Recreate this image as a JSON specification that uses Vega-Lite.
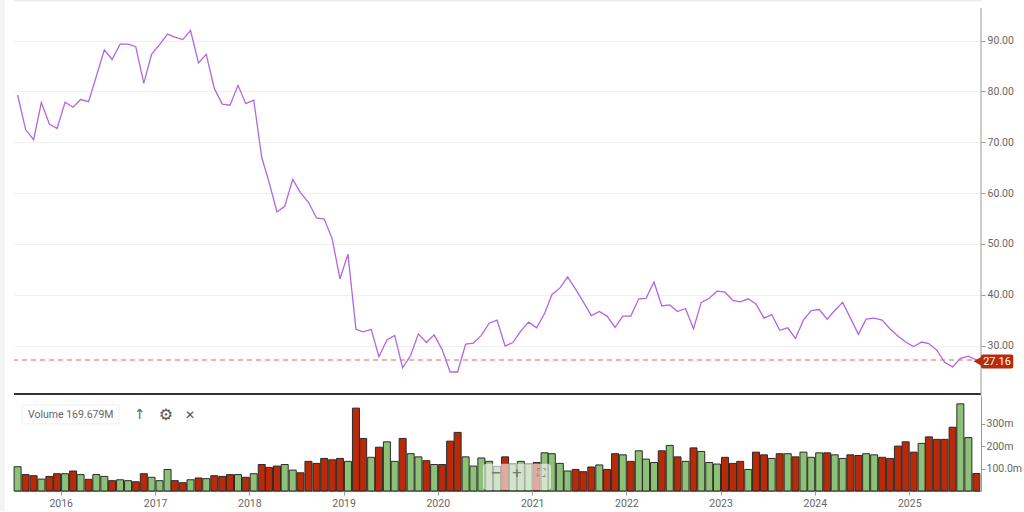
{"$schema":"https://vega.github.io/schema/vega-lite/v6.json","width":967,"height":491,"autosize":"none","padding":{"left":14,"top":0,"right":43,"bottom":21},"background":"#ffffff","config":{"scale":{"continuousPadding":0},"view":{"stroke":null},"text":{"font":"Roboto"},"axis":{"labelFont":"Roboto","labelFontSize":10.5,"labelColor":"#666666","tickColor":"#999999","domainColor":"#999999","title":null}},
"datasets":{"m":[
{"d":"2015-07-18","p":79.3,"v":108,"dir":"up"},{"d":"2015-08-18","p":72.5,"v":73,"dir":"down"},{"d":"2015-09-18","p":70.5,"v":68,"dir":"down"},{"d":"2015-10-18","p":77.8,"v":53,"dir":"up"},{"d":"2015-11-18","p":73.6,"v":65,"dir":"down"},{"d":"2015-12-18","p":72.7,"v":77,"dir":"down"},
{"d":"2016-01-18","p":77.9,"v":77,"dir":"up"},{"d":"2016-02-18","p":76.9,"v":89,"dir":"down"},{"d":"2016-03-18","p":78.4,"v":73,"dir":"up"},{"d":"2016-04-18","p":78.0,"v":52,"dir":"down"},{"d":"2016-05-18","p":83.0,"v":73,"dir":"up"},{"d":"2016-06-18","p":88.2,"v":65,"dir":"up"},{"d":"2016-07-18","p":86.3,"v":46,"dir":"down"},{"d":"2016-08-18","p":89.3,"v":50,"dir":"up"},{"d":"2016-09-18","p":89.3,"v":46,"dir":"up"},{"d":"2016-10-18","p":88.8,"v":41,"dir":"down"},{"d":"2016-11-18","p":81.6,"v":77,"dir":"down"},{"d":"2016-12-18","p":87.3,"v":61,"dir":"up"},
{"d":"2017-01-18","p":89.2,"v":46,"dir":"up"},{"d":"2017-02-18","p":91.3,"v":96,"dir":"up"},{"d":"2017-03-18","p":90.7,"v":46,"dir":"down"},{"d":"2017-04-18","p":90.2,"v":37,"dir":"down"},{"d":"2017-05-18","p":92.0,"v":50,"dir":"up"},{"d":"2017-06-18","p":85.6,"v":58,"dir":"down"},{"d":"2017-07-18","p":87.3,"v":55,"dir":"up"},{"d":"2017-08-18","p":80.6,"v":68,"dir":"down"},{"d":"2017-09-18","p":77.5,"v":65,"dir":"down"},{"d":"2017-10-18","p":77.3,"v":73,"dir":"down"},{"d":"2017-11-18","p":81.2,"v":73,"dir":"up"},{"d":"2017-12-18","p":77.6,"v":61,"dir":"down"},
{"d":"2018-01-18","p":78.3,"v":77,"dir":"up"},{"d":"2018-02-18","p":67.0,"v":118,"dir":"down"},{"d":"2018-03-18","p":62.2,"v":105,"dir":"down"},{"d":"2018-04-18","p":56.3,"v":111,"dir":"down"},{"d":"2018-05-18","p":57.4,"v":118,"dir":"up"},{"d":"2018-06-18","p":62.7,"v":93,"dir":"up"},{"d":"2018-07-18","p":60.1,"v":81,"dir":"down"},{"d":"2018-08-18","p":58.2,"v":132,"dir":"down"},{"d":"2018-09-18","p":55.1,"v":123,"dir":"down"},{"d":"2018-10-18","p":54.9,"v":145,"dir":"down"},{"d":"2018-11-18","p":51.0,"v":139,"dir":"down"},{"d":"2018-12-18","p":43.1,"v":145,"dir":"down"},
{"d":"2019-01-18","p":48.0,"v":132,"dir":"up"},{"d":"2019-02-18","p":33.2,"v":369,"dir":"down"},{"d":"2019-03-18","p":32.7,"v":234,"dir":"down"},{"d":"2019-04-18","p":33.2,"v":150,"dir":"up"},{"d":"2019-05-18","p":27.8,"v":195,"dir":"down"},{"d":"2019-06-18","p":31.1,"v":219,"dir":"up"},{"d":"2019-07-18","p":32.0,"v":132,"dir":"up"},{"d":"2019-08-18","p":25.6,"v":234,"dir":"down"},{"d":"2019-09-18","p":28.1,"v":166,"dir":"up"},{"d":"2019-10-18","p":32.3,"v":152,"dir":"up"},{"d":"2019-11-18","p":30.6,"v":135,"dir":"down"},{"d":"2019-12-18","p":32.1,"v":118,"dir":"up"},
{"d":"2020-01-18","p":29.2,"v":118,"dir":"down"},{"d":"2020-02-18","p":24.8,"v":222,"dir":"down"},{"d":"2020-03-18","p":24.8,"v":261,"dir":"down"},{"d":"2020-04-18","p":30.3,"v":152,"dir":"up"},{"d":"2020-05-18","p":30.5,"v":111,"dir":"up"},{"d":"2020-06-18","p":32.0,"v":147,"dir":"up"},{"d":"2020-07-18","p":34.4,"v":132,"dir":"up"},{"d":"2020-08-18","p":35.0,"v":110,"dir":"up"},{"d":"2020-09-18","p":29.9,"v":152,"dir":"down"},{"d":"2020-10-18","p":30.6,"v":120,"dir":"up"},{"d":"2020-11-18","p":32.9,"v":132,"dir":"up"},{"d":"2020-12-18","p":34.6,"v":120,"dir":"up"},
{"d":"2021-01-18","p":33.5,"v":127,"dir":"down"},{"d":"2021-02-18","p":36.3,"v":170,"dir":"up"},{"d":"2021-03-18","p":40.0,"v":166,"dir":"up"},{"d":"2021-04-18","p":41.3,"v":123,"dir":"up"},{"d":"2021-05-18","p":43.5,"v":89,"dir":"up"},{"d":"2021-06-18","p":41.1,"v":96,"dir":"down"},{"d":"2021-07-18","p":38.6,"v":86,"dir":"down"},{"d":"2021-08-18","p":35.9,"v":107,"dir":"down"},{"d":"2021-09-18","p":36.7,"v":116,"dir":"up"},{"d":"2021-10-18","p":35.8,"v":96,"dir":"down"},{"d":"2021-11-18","p":33.6,"v":166,"dir":"down"},{"d":"2021-12-18","p":35.8,"v":161,"dir":"up"},
{"d":"2022-01-18","p":35.8,"v":132,"dir":"down"},{"d":"2022-02-18","p":39.2,"v":179,"dir":"up"},{"d":"2022-03-18","p":39.3,"v":142,"dir":"up"},{"d":"2022-04-18","p":42.5,"v":127,"dir":"up"},{"d":"2022-05-18","p":37.8,"v":179,"dir":"down"},{"d":"2022-06-18","p":38.0,"v":203,"dir":"up"},{"d":"2022-07-18","p":36.7,"v":152,"dir":"down"},{"d":"2022-08-18","p":37.3,"v":132,"dir":"up"},{"d":"2022-09-18","p":33.3,"v":192,"dir":"down"},{"d":"2022-10-18","p":38.5,"v":176,"dir":"up"},{"d":"2022-11-18","p":39.3,"v":127,"dir":"up"},{"d":"2022-12-18","p":40.7,"v":120,"dir":"up"},
{"d":"2023-01-18","p":40.5,"v":150,"dir":"down"},{"d":"2023-02-18","p":38.9,"v":123,"dir":"down"},{"d":"2023-03-18","p":38.6,"v":132,"dir":"down"},{"d":"2023-04-18","p":39.2,"v":96,"dir":"up"},{"d":"2023-05-18","p":38.2,"v":173,"dir":"down"},{"d":"2023-06-18","p":35.4,"v":161,"dir":"down"},{"d":"2023-07-18","p":36.1,"v":145,"dir":"up"},{"d":"2023-08-18","p":33.0,"v":166,"dir":"down"},{"d":"2023-09-18","p":33.5,"v":166,"dir":"up"},{"d":"2023-10-18","p":31.4,"v":152,"dir":"down"},{"d":"2023-11-18","p":35.0,"v":173,"dir":"up"},{"d":"2023-12-18","p":36.9,"v":150,"dir":"up"},
{"d":"2024-01-18","p":37.1,"v":170,"dir":"up"},{"d":"2024-02-18","p":35.2,"v":170,"dir":"down"},{"d":"2024-03-18","p":36.9,"v":161,"dir":"up"},{"d":"2024-04-18","p":38.5,"v":145,"dir":"up"},{"d":"2024-05-18","p":35.4,"v":161,"dir":"down"},{"d":"2024-06-18","p":32.2,"v":158,"dir":"down"},{"d":"2024-07-18","p":35.2,"v":166,"dir":"up"},{"d":"2024-08-18","p":35.4,"v":161,"dir":"up"},{"d":"2024-09-18","p":35.0,"v":150,"dir":"down"},{"d":"2024-10-18","p":33.3,"v":145,"dir":"down"},{"d":"2024-11-18","p":31.9,"v":200,"dir":"down"},{"d":"2024-12-18","p":30.7,"v":219,"dir":"down"},
{"d":"2025-01-18","p":29.8,"v":173,"dir":"down"},{"d":"2025-02-18","p":30.7,"v":212,"dir":"up"},{"d":"2025-03-18","p":30.4,"v":241,"dir":"down"},{"d":"2025-04-18","p":29.1,"v":230,"dir":"down"},{"d":"2025-05-18","p":26.7,"v":230,"dir":"down"},{"d":"2025-06-18","p":25.8,"v":284,"dir":"down"},{"d":"2025-07-18","p":27.5,"v":388,"dir":"up"},{"d":"2025-08-18","p":27.9,"v":238,"dir":"up"},{"d":"2025-09-18","p":27.16,"v":78,"dir":"down"}
],"one":[{"k":1}]},
"data":{"name":"m"},
"resolve":{"scale":{"y":"independent"},"axis":{"y":"independent"}},
"layer":[
{"layer":[
{"data":{"name":"one"},"mark":{"type":"rect","fill":"#f5f5f5"},"encoding":{"x":{"datum":{"year":2015,"month":5,"date":11},"type":"temporal","scale":{"domain":["2015-07-04","2025-10-06"]}},"x2":{"datum":{"year":2015,"month":5,"date":30}},"y":{"datum":98,"type":"quantitative","scale":{"domain":[20.47,97.8],"range":[394,1],"zero":false,"nice":false},"axis":{"orient":"right","values":[30,40,50,60,70,80,90],"format":".2f","grid":true,"gridColor":"#f0f0f0","domain":false,"tickSize":4,"labelPadding":2}},"y2":{"datum":-2.6}}},
{"data":{"name":"one"},"mark":{"type":"rule","color":"#eeeeee","strokeWidth":2},"encoding":{"y":{"datum":97.9,"type":"quantitative","scale":{"domain":[20.47,97.8],"range":[394,1],"zero":false,"nice":false}}}},
{"data":{"name":"one"},"mark":{"type":"rule","color":"#333333","strokeWidth":2},"encoding":{"y":{"datum":20.47,"type":"quantitative","scale":{"domain":[20.47,97.8],"range":[394,1],"zero":false,"nice":false}}}},
{"data":{"name":"one"},"mark":{"type":"rule","color":"#999999"},"encoding":{"x":{"datum":{"year":2025,"month":10,"date":6},"type":"temporal","scale":{"domain":["2015-07-04","2025-10-06"]}},"y":{"datum":96.4,"type":"quantitative","scale":{"domain":[20.47,97.8],"range":[394,1],"zero":false,"nice":false}},"y2":{"datum":20.1}}},
{"data":{"name":"one"},"mark":{"type":"rule","color":"#e8654a","strokeDash":[5,4],"strokeWidth":1},"encoding":{"y":{"datum":27.16,"type":"quantitative","scale":{"domain":[20.47,97.8],"range":[394,1],"zero":false,"nice":false}}}},
{"mark":{"type":"line","color":"#b565e0","strokeWidth":1.3},"encoding":{"x":{"field":"d","type":"temporal","scale":{"domain":["2015-07-04","2025-10-06"]},"axis":{"format":"%Y","tickCount":"year","grid":false,"domain":true,"tickSize":4,"labelPadding":3}},"y":{"field":"p","type":"quantitative","scale":{"domain":[20.47,97.8],"range":[394,1],"zero":false,"nice":false}}}},
{"data":{"name":"one"},"mark":{"type":"point","shape":"triangle-left","filled":true,"opacity":1,"color":"#b82a08","size":110},"encoding":{"x":{"datum":{"year":2025,"month":9,"date":25},"type":"temporal","scale":{"domain":["2015-07-04","2025-10-06"]}},"y":{"datum":26.9,"type":"quantitative","scale":{"domain":[20.47,97.8],"range":[394,1],"zero":false,"nice":false}}}},
{"data":{"name":"one"},"mark":{"type":"rect","fill":"#b82a08","cornerRadius":2},"encoding":{"x":{"datum":{"year":2025,"month":10,"date":6},"type":"temporal","scale":{"domain":["2015-07-04","2025-10-06"]}},"x2":{"datum":{"year":2026,"month":2,"date":8}},"y":{"datum":28.23,"type":"quantitative","scale":{"domain":[20.47,97.8],"range":[394,1],"zero":false,"nice":false}},"y2":{"datum":25.48}}},
{"data":{"values":[{"label":"27.16"}]},"mark":{"type":"text","color":"#ffffff","font":"Roboto","fontSize":11,"align":"center","baseline":"middle"},"encoding":{"text":{"field":"label"},"x":{"datum":{"year":2025,"month":12,"date":7},"type":"temporal","scale":{"domain":["2015-07-04","2025-10-06"]}},"y":{"datum":26.85,"type":"quantitative","scale":{"domain":[20.47,97.8],"range":[394,1],"zero":false,"nice":false}}}}
]},
{"layer":[
{"mark":{"type":"bar","size":7,"stroke":"#2b2b2b","strokeWidth":1},"encoding":{"x":{"field":"d","type":"temporal","scale":{"domain":["2015-07-04","2025-10-06"]}},"y":{"field":"v","type":"quantitative","scale":{"domain":[0,423],"range":[491,396],"nice":false},"axis":{"orient":"right","values":[100,200,300],"labelExpr":"datum.value==100?'100.0m':datum.value+'m'","grid":false,"domain":true,"tickSize":4,"labelPadding":1}},"color":{"field":"dir","type":"nominal","scale":{"domain":["up","down"],"range":["#8cc176","#b82a08"]},"legend":null}}},
{"data":{"name":"one"},"mark":{"type":"rect","fill":"#ffffff","stroke":"#eeeeee"},"encoding":{"x":{"datum":{"year":2015,"month":8,"date":4},"type":"temporal","scale":{"domain":["2015-07-04","2025-10-06"]}},"x2":{"datum":{"year":2016,"month":8,"date":14}},"y":{"datum":383,"type":"quantitative","scale":{"domain":[0,423],"range":[491,396],"nice":false}},"y2":{"datum":299}}},
{"data":{"values":[{"label":"Volume 169.679M"}]},"mark":{"type":"text","color":"#666666","font":"Roboto","fontSize":10.5,"align":"center","baseline":"middle"},"encoding":{"text":{"field":"label"},"x":{"datum":{"year":2016,"month":2,"date":9},"type":"temporal","scale":{"domain":["2015-07-04","2025-10-06"]}},"y":{"datum":339,"type":"quantitative","scale":{"domain":[0,423],"range":[491,396],"nice":false}}}},
{"data":{"values":[{"label":"↑"}]},"mark":{"type":"text","color":"#666666","font":"DejaVu Sans","fontSize":14,"align":"center","baseline":"middle"},"encoding":{"text":{"field":"label"},"x":{"datum":{"year":2016,"month":11,"date":3},"type":"temporal","scale":{"domain":["2015-07-04","2025-10-06"]}},"y":{"datum":339,"type":"quantitative","scale":{"domain":[0,423],"range":[491,396],"nice":false}}}},
{"data":{"values":[{"label":"⚙"}]},"mark":{"type":"text","color":"#555555","font":"DejaVu Sans","fontSize":16,"align":"center","baseline":"middle"},"encoding":{"text":{"field":"label"},"x":{"datum":{"year":2017,"month":2,"date":12},"type":"temporal","scale":{"domain":["2015-07-04","2025-10-06"]}},"y":{"datum":339,"type":"quantitative","scale":{"domain":[0,423],"range":[491,396],"nice":false}}}},
{"data":{"values":[{"label":"✕"}]},"mark":{"type":"text","color":"#555555","font":"DejaVu Sans","fontSize":12,"align":"center","baseline":"middle"},"encoding":{"text":{"field":"label"},"x":{"datum":{"year":2017,"month":5,"date":16},"type":"temporal","scale":{"domain":["2015-07-04","2025-10-06"]}},"y":{"datum":339,"type":"quantitative","scale":{"domain":[0,423],"range":[491,396],"nice":false}}}},
{"data":{"name":"one"},"mark":{"type":"rect","fill":"#ffffff","opacity":0.6,"cornerRadius":3},"encoding":{"x":{"datum":{"year":2020,"month":6,"date":24},"type":"temporal","scale":{"domain":["2015-07-04","2025-10-06"]}},"x2":{"datum":{"year":2021,"month":3,"date":15}},"y":{"datum":121,"type":"quantitative","scale":{"domain":[0,423],"range":[491,396],"nice":false}},"y2":{"datum":5}}},
{"data":{"values":[{"label":"−"}]},"mark":{"type":"text","color":"#777777","font":"DejaVu Sans","fontWeight":"bold","fontSize":13,"align":"center","baseline":"middle"},"encoding":{"text":{"field":"label"},"x":{"datum":{"year":2020,"month":8,"date":14},"type":"temporal","scale":{"domain":["2015-07-04","2025-10-06"]}},"y":{"datum":81,"type":"quantitative","scale":{"domain":[0,423],"range":[491,396],"nice":false}}}},
{"data":{"values":[{"label":"+"}]},"mark":{"type":"text","color":"#777777","font":"DejaVu Sans","fontWeight":"bold","fontSize":13,"align":"center","baseline":"middle"},"encoding":{"text":{"field":"label"},"x":{"datum":{"year":2020,"month":11,"date":3},"type":"temporal","scale":{"domain":["2015-07-04","2025-10-06"]}},"y":{"datum":81,"type":"quantitative","scale":{"domain":[0,423],"range":[491,396],"nice":false}}}},
{"data":{"values":[{"label":"⛶"}]},"mark":{"type":"text","color":"#777777","font":"DejaVu Sans","fontSize":12,"align":"center","baseline":"middle"},"encoding":{"text":{"field":"label"},"x":{"datum":{"year":2021,"month":2,"date":4},"type":"temporal","scale":{"domain":["2015-07-04","2025-10-06"]}},"y":{"datum":81,"type":"quantitative","scale":{"domain":[0,423],"range":[491,396],"nice":false}}}}
]}
]}
